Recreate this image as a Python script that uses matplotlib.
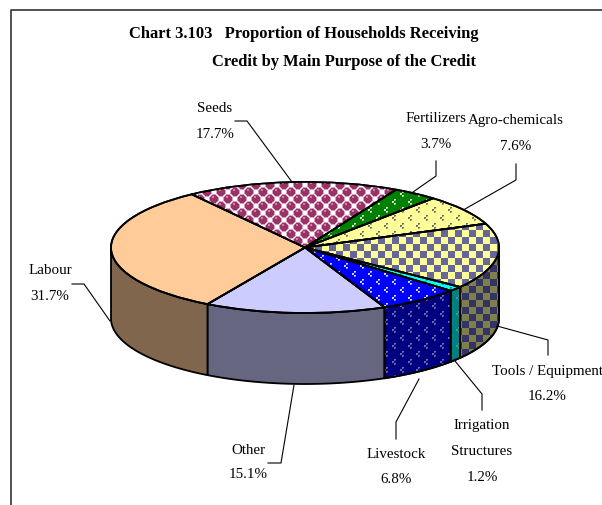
import numpy as np
import matplotlib
matplotlib.use("Agg")
import matplotlib.pyplot as plt
from matplotlib.lines import Line2D
from matplotlib.patches import PathPatch

# ---- data
categories = ["Seeds", "Fertilizers", "Agro-chemicals", "Tools / Equipment",
              "Irrigation\nStructures", "Livestock", "Other", "Labour"]
percent = [17.7, 3.7, 7.6, 16.2, 1.2, 6.8, 15.1, 31.7]

# ---- style
top_colors = ["#993366", "#008000", "#FFFF99", "#FFFF99", "#00FFFF", "#0000FF", "#CCCCFF", "#FFCC99"]
wall_colors = ["#4C1933", "#004000", "#7F7F4C", "#7F7F4C", "#008080", "#000080", "#666680", "#80664D"]
top_patterns = ["beads", "dots", "dots", "check", "dots", "dots", None, None]
top_pattern_colors = ["#FFFFFF", "#D8ECD8", "#6F6F66", "#666699", "#008C8C", "#D8D8FF", None, None]
wall_pattern_colors = ["#FFFFFF", "#80A080", "#7F7F70", "#333366", "#30A0A0", "#7070B0", None, None]

W, H = 602, 506
CX, CY, RX, RY, DEPTH = 305.0, 248.5, 194.0, 65.5, 71.0
START_ANGLE = 125.7

plt.rcParams["font.family"] = ["Liberation Serif", "DejaVu Serif"]
fig = plt.figure(figsize=(W / 100, H / 100), dpi=100, facecolor="white")
xlim = (-CX / RX, (W - CX) / RX)
ylim = ((CY - H) / RY, CY / RY)


def pattern_image(kind, hexcolor):
    """Full-figure RGBA texture, one array cell per output pixel."""
    rgb = matplotlib.colors.to_rgb(hexcolor)
    yy, xx = np.mgrid[0:H, 0:W]
    img = np.zeros((H, W, 4))
    if kind == "check":
        mask = ((xx // 7 + yy // 7) % 2) == 0
        img[mask] = (*rgb, 1)
    elif kind == "dots":
        tile = np.zeros((16, 16))
        for ox, oy in ((0, 0), (8, 8)):
            for dx, dy, a in ((2, 0, 1), (3, 0, 1), (2, 1, 0.8), (3, 1, 0.5),
                              (0, 2, 1), (1, 2, 1), (0, 3, 1), (1, 3, 0.8),
                              (2, 4, 1), (3, 4, 1), (2, 5, 0.8), (3, 5, 0.5)):
                tile[(oy + dy) % 16, (ox + dx) % 16] = a
        a = tile[yy % 16, xx % 16]
        img[..., :3] = rgb
        img[..., 3] = a
    elif kind == "beads":
        px, py = (xx % 14), (yy % 14)
        d = np.full((H, W), 99.0)
        for ox, oy in ((3.5, 3.5), (10.5, 10.5), (-3.5, 10.5), (10.5, -3.5), (17.5, 3.5), (3.5, 17.5)):
            d = np.minimum(d, np.hypot(px - ox, py - oy))
        img[d >= 4.9] = (1, 1, 1, 1)
        img[(d >= 4.2) & (d < 4.9)] = (0.85, 0.62, 0.75, 1)
        h = np.full((H, W), 99.0)
        for ox, oy in ((2.5, 1.5), (9.5, 8.5)):
            h = np.minimum(h, np.hypot(px - ox, (py - oy) * 1.6))
        img[h < 1.6] = (0.80, 0.50, 0.66, 1)
    return img


ax = fig.add_axes([0, 0, 1, 1])
wedges, _ = ax.pie(percent, startangle=START_ANGLE, counterclock=False, colors=top_colors,
                   radius=1.0, wedgeprops=dict(edgecolor="black", linewidth=1.3, zorder=3))
ax.set_aspect("auto")
ax.set_xlim(*xlim)
ax.set_ylim(*ylim)
ax.axis("off")

depth = DEPTH / RY
extent = (xlim[0], xlim[1], ylim[0], ylim[1])

# side wall: the front half of the rim of each slice, lowered by the depth
for i, w in enumerate(wedges):
    lo, hi = w.theta1, w.theta2
    for shift in (0, -360, 360):
        a, b = max(lo + shift, 180), min(hi + shift, 360)
        if b <= a:
            continue
        t = np.radians(np.linspace(a, b, 80))
        xs = np.concatenate([np.cos(t), np.cos(t[::-1])])
        ys = np.concatenate([np.sin(t), np.sin(t[::-1]) - depth])
        poly = ax.fill(xs, ys, facecolor=wall_colors[i], edgecolor="black",
                       linewidth=1.3, zorder=1, joinstyle="round")[0]
        if top_patterns[i]:
            im = ax.imshow(pattern_image(top_patterns[i], wall_pattern_colors[i]), extent=extent,
                           aspect="auto", interpolation="nearest", zorder=1.2)
            im.set_clip_path(poly)
            ax.fill(xs, ys, facecolor="none", edgecolor="black", linewidth=1.3, zorder=1.4)

# textures on the top face, then the outlines again
for i, w in enumerate(wedges):
    if top_patterns[i]:
        im = ax.imshow(pattern_image(top_patterns[i], top_pattern_colors[i]), extent=extent,
                       aspect="auto", interpolation="nearest", zorder=3.2)
        im.set_clip_path(w)
    ax.add_patch(PathPatch(w.get_path(), transform=w.get_transform(), facecolor="none",
                           edgecolor="black", linewidth=1.3, zorder=3.4))
ax.set_xlim(*xlim)
ax.set_ylim(*ylim)

# ---- overlay in pixel coordinates: frame, leaders, texts
ov = fig.add_axes([0, 0, 1, 1], facecolor="none")
ov.set_xlim(0, W)
ov.set_ylim(H, 0)
ov.axis("off")

ov.add_line(Line2D([11, 11, W], [H, 11, 11], color="#333333", lw=1.2))

leaders = [
    ([235, 247, 292], [122, 122, 183]),
    ([436, 436, 413], [162, 177, 193]),
    ([516, 516, 465], [165, 181, 210]),
    ([497, 548, 548], [327, 341, 356]),
    ([455, 482, 482], [362, 395, 411]),
    ([419, 396, 396], [380, 423, 440]),
    ([294, 281, 268], [386, 464, 464]),
    ([110, 84, 72], [322, 285, 285]),
]
for lx, ly in leaders:
    ov.add_line(Line2D(lx, ly, color="black", lw=0.8))

# centre x, y of the first line, line gap
label_pos = [(215, 108, 26), (436, 118, 26), (516, 120, 26), (547, 372, 25),
             (482, 426, 26), (396, 455, 25), (248, 451, 24), (50, 271, 26)]
for name, val, (x, y, gap) in zip(categories, percent, label_pos):
    for k, line in enumerate(f"{name}\n{val:.1f}%".split("\n")):
        ov.text(x, y + k * gap, line, ha="center", va="center", fontsize=10.8, color="black")

ov.text(304, 34, "Chart 3.103   Proportion of Households Receiving", ha="center", va="center",
        fontsize=11.9, fontweight="bold", color="black")
ov.text(344, 62, "Credit by Main Purpose of the Credit", ha="center", va="center",
        fontsize=11.9, fontweight="bold", color="black")

fig.savefig("out.png", dpi=100, facecolor="white")
